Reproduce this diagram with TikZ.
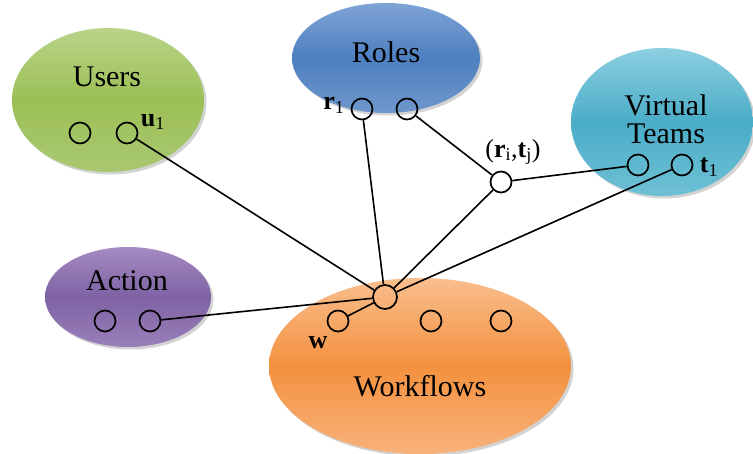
\documentclass[tikz,border=0pt]{standalone}
\usepackage{fontspec}
\setmainfont{Liberation Serif}
\usetikzlibrary{shapes.geometric,shadows}

\definecolor{grnT}{HTML}{B9D48A}
\definecolor{grnM}{HTML}{9CBF55}
\definecolor{grnB}{HTML}{A9C872}
\definecolor{bluT}{HTML}{7FA4D6}
\definecolor{bluM}{HTML}{4E7FBF}
\definecolor{bluB}{HTML}{6F97CC}
\definecolor{tealT}{HTML}{8DCFE0}
\definecolor{tealM}{HTML}{4AADC8}
\definecolor{tealB}{HTML}{6FC0D5}
\definecolor{purT}{HTML}{A58BC4}
\definecolor{purM}{HTML}{7E62A3}
\definecolor{purB}{HTML}{9A80BA}
\definecolor{orgT}{HTML}{F9BE8E}
\definecolor{orgM}{HTML}{F4913F}
\definecolor{orgB}{HTML}{F8B27A}

\tikzset{
  setbox/.style={ellipse, inner sep=0pt,
    drop shadow={shadow xshift=2.5pt, shadow yshift=-2.5pt, opacity=0.35}},
  title/.style={font=\fontsize{30}{31}\selectfont, align=center, inner sep=0pt},
  elem/.style={circle, draw=black, line width=1.7pt, minimum size=21pt, inner sep=0pt},
  lbl/.style={font=\fontsize{26}{28}\selectfont, inner sep=0pt},
  link/.style={line width=1.6pt, black},
}

\begin{document}
\begin{tikzpicture}[x=1pt, y=-1pt]
  \useasboundingbox (0,0) rectangle (753,454);

  % sets
  \node[setbox, minimum width=192pt, minimum height=144pt,
        top color=grnT, bottom color=grnB, middle color=grnM] (users) at (108,100) {};
  \node[setbox, minimum width=188pt, minimum height=110pt,
        top color=bluT, bottom color=bluB, middle color=bluM] (roles) at (386,58) {};
  \node[setbox, minimum width=182pt, minimum height=148pt,
        top color=tealT, bottom color=tealB, middle color=tealM] (teams) at (662,122) {};
  \node[setbox, minimum width=166pt, minimum height=100pt,
        top color=purT, bottom color=purB, middle color=purM] (action) at (128,297) {};
  \node[setbox, minimum width=302pt, minimum height=176pt,
        top color=orgT, bottom color=orgB, middle color=orgM] (flows) at (420,366) {};

  % set titles
  \node[title] (tusers) at (107,77) {Users};
  \node[title] (troles) at (386,52) {Roles};
  \node[title] (tteams) at (666,119) {Virtual\\[-3pt]Teams};
  \node[title] (taction) at (127,281) {Action};
  \node[title] (tflows) at (420,386) {Workflows};

  % elements
  \node[elem] (ua) at (80,133) {};
  \node[elem] (u1) at (127,133) {};
  \node[elem] (r1) at (362,109) {};
  \node[elem] (ri) at (407,109) {};
  \node[elem] (rt) at (501,182) {};
  \node[elem] (tj) at (638,165) {};
  \node[elem] (t1) at (682,165) {};
  \node[elem] (aa) at (105,321) {};
  \node[elem] (ab) at (150,321) {};
  \node[elem, minimum size=24pt] (hub) at (385,297) {};
  \node[elem] (w) at (338,321) {};
  \node[elem] (wb) at (431,321) {};
  \node[elem] (wc) at (501,321) {};

  % element labels
  \node[lbl] (lu1) at (153,122) {\textbf{u}\textsubscript{1}};
  \node[lbl] (lr1) at (334,105) {\textbf{r}\textsubscript{1}};
  \node[lbl] (lrt) at (513,152) {(\textbf{r}\textsubscript{i},\textbf{t}\textsubscript{j})};
  \node[lbl] (lt1) at (709,167) {\textbf{t}\textsubscript{1}};
  \node[lbl] (lw) at (318,343) {\textbf{w}};

  % links
  \draw[link] (u1) -- (hub);
  \draw[link] (r1) -- (hub);
  \draw[link] (ri) -- (rt);
  \draw[link] (rt) -- (tj);
  \draw[link] (rt) -- (hub);
  \draw[link] (t1) -- (hub);
  \draw[link] (ab) -- (hub);
  \draw[link] (hub) -- (w);
\end{tikzpicture}
\end{document}
